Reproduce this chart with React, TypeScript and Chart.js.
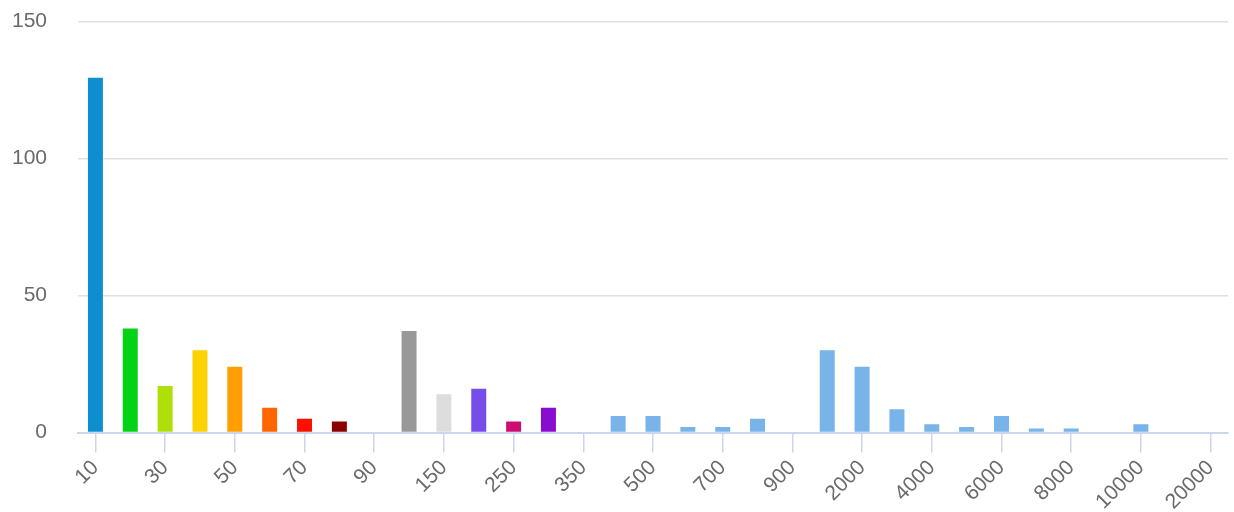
import React, { useEffect, useRef } from "react";
import { Chart, registerables } from "chart.js";

Chart.register(...registerables);

const categories = [
  "10", "20", "30", "40", "50", "60", "70", "80", "90", "100",
  "150", "200", "250", "300", "350", "400", "500", "600", "700", "800",
  "900", "1000", "2000", "3000", "4000", "5000", "6000", "7000", "8000", "9000",
  "10000", "15000", "20000",
];

const values = [
  129.5, 38, 17, 30, 24, 9, 5, 4, 0, 37,
  14, 16, 4, 9, 0, 6, 6, 2, 2, 5,
  0, 30, 24, 8.5, 3, 2, 6, 1.5, 1.5, 0,
  3, 0, 0,
];

const lightBlue = "#78b3e9";
const barColors = [
  "#0d8ecf", "#04d215", "#b0de09", "#fcd202", "#ff9e01", "#ff6600", "#ff0f00", "#8b0000", "#333333", "#999999",
  "#dddddd", "#754deb", "#cd0d74", "#8a0ccf", lightBlue, lightBlue, lightBlue, lightBlue, lightBlue, lightBlue,
  lightBlue, lightBlue, lightBlue, lightBlue, lightBlue, lightBlue, lightBlue, lightBlue, lightBlue, lightBlue,
  lightBlue, lightBlue, lightBlue,
];

const yMin = 0;
const yMax = 150;
const yStep = 50;

export default function App() {
  const canvasRef = useRef<HTMLCanvasElement | null>(null);

  useEffect(() => {
    if (!canvasRef.current) return;
    const font = { family: "'Liberation Sans', Arial, sans-serif", size: 21 };
    const chart = new Chart(canvasRef.current, {
      type: "bar",
      data: {
        labels: categories,
        datasets: [
          {
            data: values,
            backgroundColor: barColors,
            borderWidth: 0,
            barPercentage: 0.43,
            categoryPercentage: 1,
          },
        ],
      },
      options: {
        animation: false,
        responsive: true,
        maintainAspectRatio: false,
        layout: { padding: { top: 21.5, right: 6, bottom: 0, left: 0 } },
        plugins: { legend: { display: false }, tooltip: { enabled: false } },
        scales: {
          x: {
            offset: true,
            afterFit: (scale: any) => {
              scale.height = 79.5;
            },
            grid: {
              offset: false,
              drawOnChartArea: false,
              drawTicks: true,
              tickLength: 20,
              tickColor: (ctx: any) => (ctx.index % 2 === 0 ? "#ccd6eb" : "rgba(0,0,0,0)"),
              lineWidth: 1.5,
            },
            border: { display: true, color: "#ccd6eb", width: 2 },
            ticks: {
              autoSkip: false,
              minRotation: 45,
              maxRotation: 45,
              padding: 3,
              color: "#6a6a6a",
              font,
              callback: (_v: any, i: number) => (i % 2 === 0 ? categories[i] : ""),
            },
          },
          y: {
            min: yMin,
            max: yMax,
            afterFit: (scale: any) => {
              scale.width = 78;
              scale.paddingTop = 0;
              scale.paddingBottom = 0;
            },
            grid: { color: "#e0e0e0", drawTicks: false, lineWidth: 1.5 },
            border: { display: false },
            ticks: { stepSize: yStep, padding: 31, color: "#6a6a6a", font },
          },
        },
      },
    });
    return () => chart.destroy();
  }, []);

  return (
    <div style={{ position: "fixed", left: 0, top: 0, width: 1234, height: 512, background: "#fff" }}>
      <canvas ref={canvasRef} />
    </div>
  );
}
